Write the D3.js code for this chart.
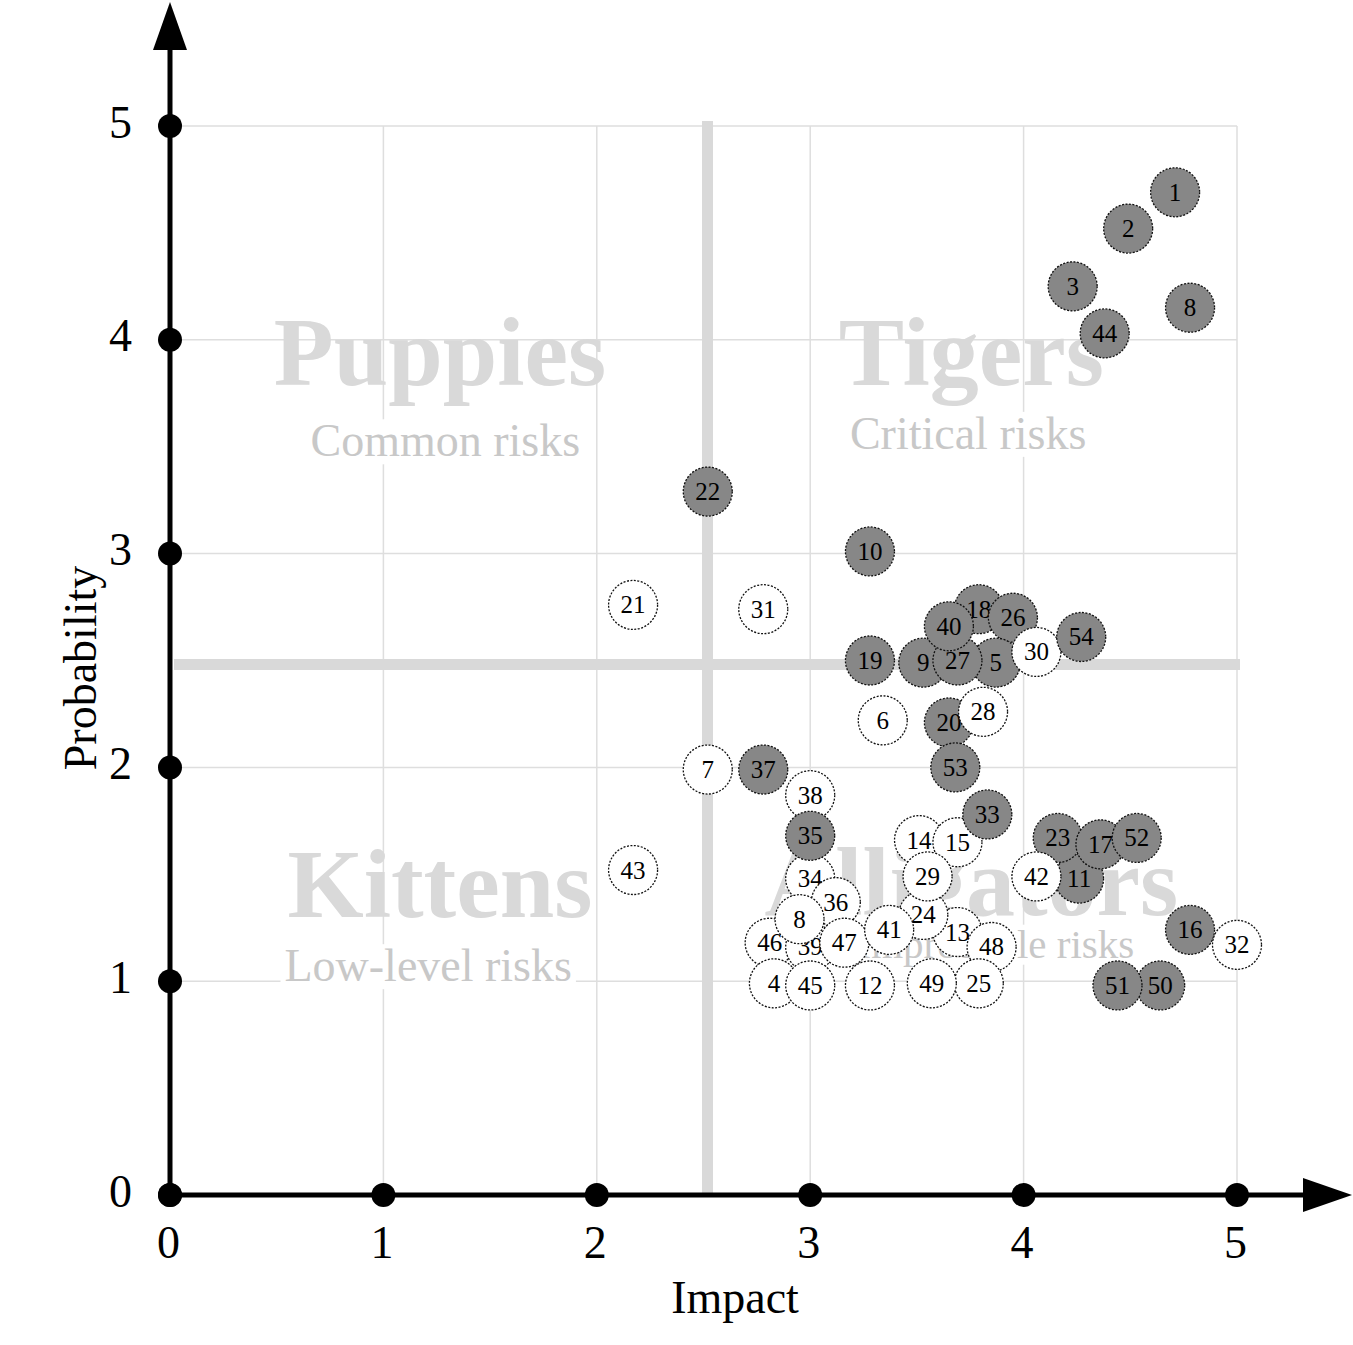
<!DOCTYPE html>
<html>
<head>
<meta charset="utf-8">
<script src="https://cdn.jsdelivr.net/npm/d3@7"></script>
<style>
  html, body { margin: 0; padding: 0; background: #fff; }
  svg { display: block; }
  text { font-family: "Liberation Serif", "Times New Roman", serif; }
</style>
</head>
<body>
<svg id="chart" width="1353" height="1345"></svg>
<script>
// ---- data (draw order: later items are drawn on top) ----
const riskIds = [1, 2, 3, 44, 8, 22, 10, 21, 31, 43, 19, 6, 7, 37, 38, 34, 35,
  18, 26, 9, 5, 27, 40, 30, 54, 20, 28, 53, 14, 15, 33, 13, 24, 29,
  11, 23, 17, 52, 42, 36, 46, 39, 8, 47, 41, 48, 25, 49, 4, 45, 12,
  16, 32, 50, 51];
const impact = [4.71, 4.49, 4.23, 4.38, 4.78, 2.52, 3.28, 2.17, 2.78, 2.17, 3.28, 3.34, 2.52, 2.78, 3.00, 3.00, 3.00,
  3.79, 3.95, 3.53, 3.87, 3.69, 3.65, 4.06, 4.27, 3.65, 3.81, 3.68, 3.51, 3.69, 3.83, 3.69, 3.53, 3.55,
  4.26, 4.16, 4.36, 4.53, 4.06, 3.12, 2.81, 3.00, 2.95, 3.16, 3.37, 3.85, 3.79, 3.57, 2.83, 3.00, 3.28,
  4.78, 5.00, 4.64, 4.44];
const probability = [4.69, 4.52, 4.25, 4.03, 4.15, 3.29, 3.01, 2.76, 2.74, 1.52, 2.50, 2.22, 1.99, 1.99, 1.87, 1.48, 1.68,
  2.74, 2.70, 2.49, 2.49, 2.50, 2.66, 2.54, 2.61, 2.21, 2.26, 2.00, 1.66, 1.65, 1.78, 1.23, 1.31, 1.49,
  1.48, 1.67, 1.64, 1.67, 1.49, 1.37, 1.18, 1.16, 1.29, 1.18, 1.24, 1.16, 0.99, 0.99, 0.99, 0.98, 0.98,
  1.24, 1.17, 0.98, 0.98];
const critical = [1, 1, 1, 1, 1, 1, 1, 0, 0, 0, 1, 0, 0, 1, 0, 0, 1,
  1, 1, 1, 1, 1, 1, 0, 1, 1, 0, 1, 0, 0, 1, 0, 0, 0,
  1, 1, 1, 1, 0, 0, 0, 0, 0, 0, 0, 0, 0, 0, 0, 0, 0,
  1, 0, 1, 1];

const tickValues = [0, 1, 2, 3, 4, 5];
const gridValues = [1, 2, 3, 4, 5];
const xTitle = "Impact";
const yTitle = "Probability";
const quadrantTitles = ["Puppies", "Tigers", "Kittens", "Alligators"];
const quadrantSubtitles = ["Common risks", "Critical risks", "Low-level risks", "Improbable risks"];

// ---- layout ----
const svg = d3.select("#chart");
const x = d3.scaleLinear().domain([0, 5]).range([170, 1237]);
const y = d3.scaleLinear().domain([0, 5]).range([1195, 126]);

const GRID = "#dedede";
const MID = "#d9d9d9";

// grid lines
const grid = svg.append("g");
grid.selectAll("line.v").data(gridValues).join("line")
  .attr("x1", d => x(d)).attr("x2", d => x(d))
  .attr("y1", y(5)).attr("y2", y(0))
  .attr("stroke", GRID).attr("stroke-width", 1.5);
grid.selectAll("line.h").data(gridValues).join("line")
  .attr("x1", x(0)).attr("x2", x(5))
  .attr("y1", d => y(d)).attr("y2", d => y(d))
  .attr("stroke", GRID).attr("stroke-width", 1.5);

// quadrant labels
const qx = [x(1.265), x(3.755), x(1.265), x(3.755)];
const qyTitle = [y(3.79), y(3.79), y(1.30), y(1.31)];
const qySub = [y(3.455), y(3.49), y(1.0), y(1.11)];
const qxSub = [x(1.29), x(3.74), x(1.21), x(3.87)];
const qSubSize = [46, 46, 46, 41];

const labels = svg.append("g");
quadrantTitles.forEach((t, i) => {
  labels.append("text")
    .attr("x", qx[i]).attr("y", qyTitle[i])
    .attr("text-anchor", "middle")
    .attr("font-size", 98).attr("font-weight", "bold")
    .attr("fill", "#d9d9d9").text(t);
});
quadrantSubtitles.forEach((t, i) => {
  const g = labels.append("g");
  const rect = g.append("rect").attr("fill", "#fff");
  const txt = g.append("text")
    .attr("x", qxSub[i]).attr("y", qySub[i])
    .attr("text-anchor", "middle")
    .attr("font-size", qSubSize[i])
    .attr("fill", "#c8c8c8").text(t);
  const bb = txt.node().getBBox();
  rect.attr("x", bb.x - 4).attr("y", bb.y + 4).attr("width", bb.width + 8).attr("height", bb.height - 6);
});

// mid lines (quadrant separators)
const mid = svg.append("g").attr("transform", "translate(4,4)");
mid.append("line")
  .attr("x1", x(2.5)).attr("x2", x(2.5)).attr("y1", y(5) - 9).attr("y2", y(0) - 4)
  .attr("stroke", MID).attr("stroke-width", 11);
mid.append("line")
  .attr("x1", x(0)).attr("x2", x(5) - 1).attr("y1", y(2.5)).attr("y2", y(2.5))
  .attr("stroke", MID).attr("stroke-width", 11);

// bubbles
const risks = riskIds.map((id, i) => ({ id, ix: impact[i], p: probability[i], c: critical[i] }));
const bub = svg.append("g");
const nodes = bub.selectAll("g").data(risks).join("g")
  .attr("transform", d => `translate(${x(d.ix)},${y(d.p)})`);
nodes.append("circle")
  .attr("r", 24.5)
  .attr("fill", d => d.c ? "#878787" : "#ffffff")
  .attr("stroke", "#111")
  .attr("stroke-width", 1.3)
  .attr("stroke-dasharray", "2,1.5");
nodes.append("text")
  .attr("text-anchor", "middle")
  .attr("dy", "0.34em")
  .attr("font-size", 25)
  .attr("fill", "#000")
  .text(d => d.id);

// axes
const axes = svg.append("g");
axes.append("line")
  .attr("x1", x(0)).attr("x2", x(0)).attr("y1", y(0)).attr("y2", 48)
  .attr("stroke", "#000").attr("stroke-width", 5);
axes.append("path")
  .attr("d", `M${x(0)},2 L${x(0) - 17},50 L${x(0) + 17},50 Z`).attr("fill", "#000");
axes.append("line")
  .attr("x1", x(0)).attr("x2", 1306).attr("y1", y(0)).attr("y2", y(0))
  .attr("stroke", "#000").attr("stroke-width", 5);
axes.append("path")
  .attr("d", `M1352,${y(0)} L1303,${y(0) - 17} L1303,${y(0) + 17} Z`).attr("fill", "#000");

const xAxis = d3.axisBottom(x).tickValues(tickValues).tickSize(0).tickPadding(30).tickFormat(d3.format("d"));
const yAxis = d3.axisLeft(y).tickValues(tickValues).tickSize(0).tickPadding(38).tickFormat(d3.format("d"));
const gx = axes.append("g").attr("transform", `translate(0,${y(0)})`).call(xAxis);
const gy = axes.append("g").attr("transform", `translate(${x(0)},0)`).call(yAxis);
[gx, gy].forEach(g => {
  g.select(".domain").remove();
  g.selectAll("text").attr("font-size", 46).attr("font-family", "Liberation Serif").attr("fill", "#000");
});
gx.selectAll("text").attr("x", -2);
gy.selectAll("text").attr("dy", "0.24em");

axes.selectAll("circle.tx").data(tickValues).join("circle")
  .attr("cx", d => x(d)).attr("cy", y(0)).attr("r", 12).attr("fill", "#000");
axes.selectAll("circle.ty").data(tickValues).join("circle")
  .attr("cx", x(0)).attr("cy", d => y(d)).attr("r", 12).attr("fill", "#000");

// axis titles
svg.append("text").attr("x", 735).attr("y", 1313)
  .attr("text-anchor", "middle").attr("font-size", 46).attr("fill", "#000").text(xTitle);
svg.append("text").attr("transform", "translate(96,668) rotate(-90)")
  .attr("text-anchor", "middle").attr("font-size", 46).attr("fill", "#000").text(yTitle);
</script>
</body>
</html>
